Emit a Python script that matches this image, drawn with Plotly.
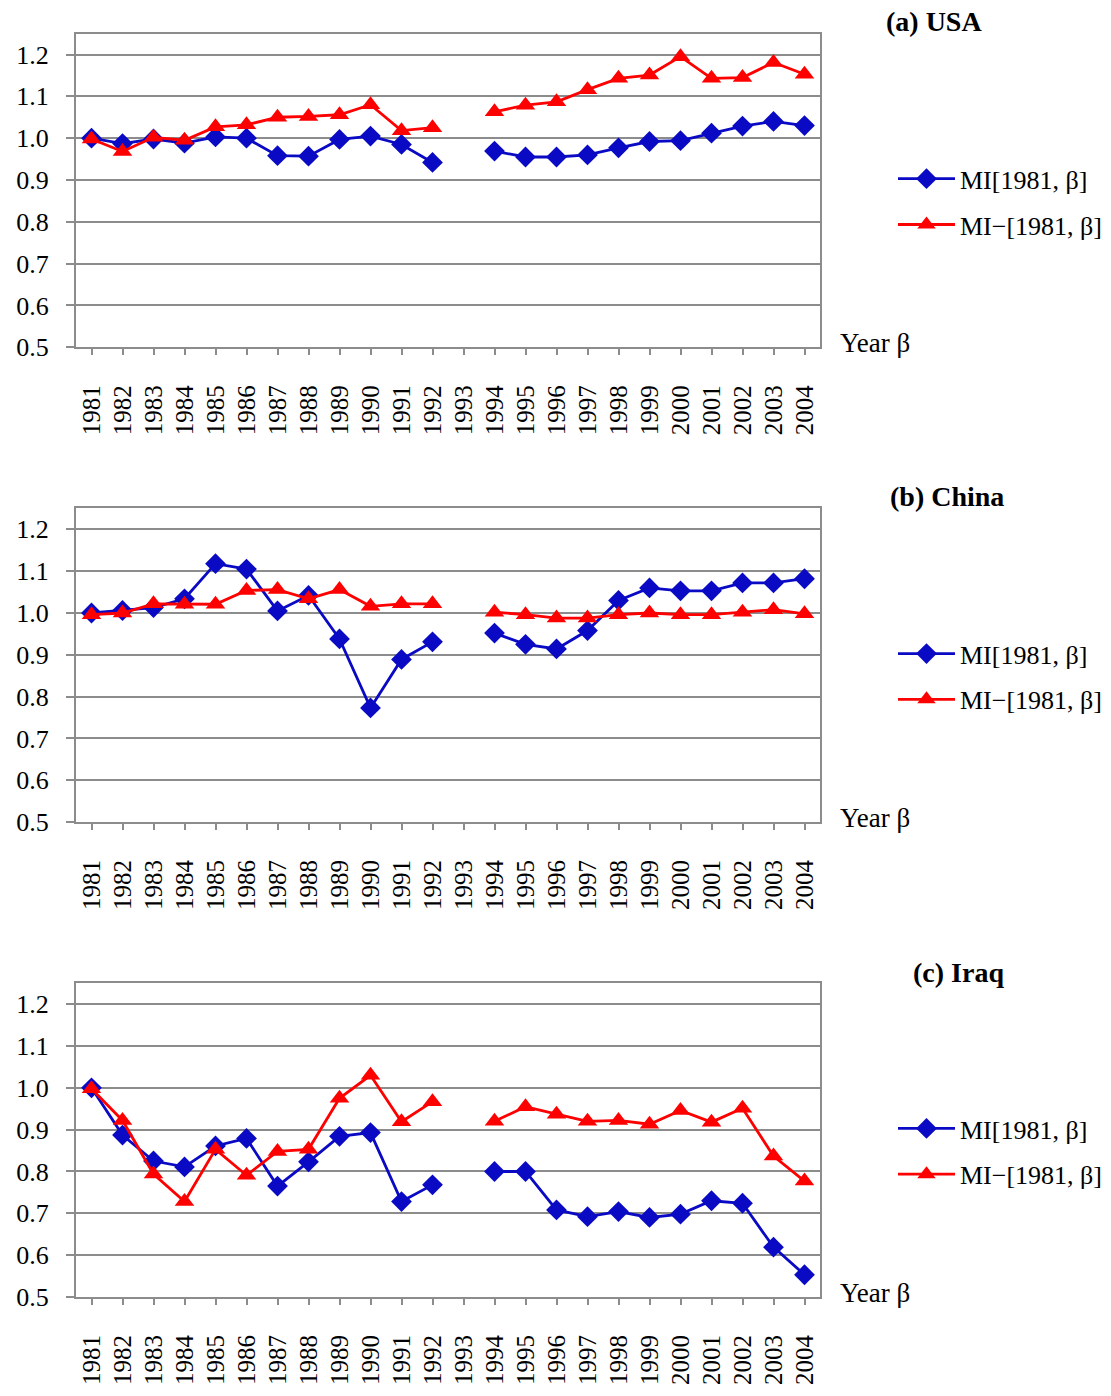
import plotly.graph_objects as go

years = ["1981","1982","1983","1984","1985","1986","1987","1988","1989","1990","1991","1992",
         "1993","1994","1995","1996","1997","1998","1999","2000","2001","2002","2003","2004"]

usa_mi = [1.000, 0.987, 0.998, 0.988, 1.003, 1.000, 0.958, 0.957, 0.997, 1.005, 0.985, 0.942,
          None, 0.969, 0.955, 0.955, 0.960, 0.977, 0.992, 0.994, 1.012, 1.029, 1.040, 1.030]
usa_mim = [0.998, 0.968, 1.002, 0.995, 1.027, 1.032, 1.050, 1.052, 1.056, 1.080, 1.018, 1.025,
           None, 1.063, 1.079, 1.087, 1.116, 1.143, 1.151, 1.195, 1.143, 1.145, 1.181, 1.153]

china_mi = [1.000, 1.006, 1.013, 1.034, 1.118, 1.105, 1.005, 1.042, 0.938, 0.773, 0.889, 0.931,
            None, 0.952, 0.925, 0.914, 0.958, 1.030, 1.060, 1.053, 1.053, 1.072, 1.072, 1.082]
china_mim = [0.996, 1.000, 1.022, 1.021, 1.021, 1.054, 1.056, 1.034, 1.056, 1.016, 1.022, 1.022,
             None, 1.002, 0.996, 0.988, 0.988, 0.996, 1.000, 0.996, 0.996, 1.002, 1.008, 0.998]

iraq_mi = [1.000, 0.887, 0.825, 0.811, 0.861, 0.879, 0.765, 0.823, 0.884, 0.893, 0.728, 0.768,
           None, 0.800, 0.800, 0.708, 0.692, 0.704, 0.690, 0.698, 0.730, 0.724, 0.619, 0.553]
iraq_mim = [0.998, 0.922, 0.794, 0.728, 0.853, 0.791, 0.848, 0.853, 0.975, 1.030, 0.919, 0.967,
            None, 0.920, 0.955, 0.937, 0.920, 0.922, 0.913, 0.946, 0.918, 0.951, 0.837, 0.777]

panels = [("(a) USA", usa_mi, usa_mim), ("(b) China", china_mi, china_mim), ("(c) Iraq", iraq_mi, iraq_mim)]
y_ticks = [0.5, 0.6, 0.7, 0.8, 0.9, 1.0, 1.1, 1.2]

W, H = 1111, 1396
FONT = "Liberation Serif"
BLUE = "#0A0AC4"
RED = "#FF0000"
GRID = "#8C8C8C"

fig = go.Figure()
layout = dict(width=W, height=H, margin=dict(l=0, r=0, t=0, b=0),
              paper_bgcolor="white", plot_bgcolor="white",
              font=dict(family=FONT, size=24, color="black"))
annotations = []

tops = [34, 514, 994]
bottoms = [351, 831, 1311]
title_pos = [(934, 22), (947, 502), (958, 983)]
x0, x1 = 76, 820

for i, (title, mi, mim) in enumerate(panels):
    n = "" if i == 0 else str(i + 1)
    xa, ya = "x" + n, "y" + n
    leg = "legend" + n
    fig.add_trace(go.Scatter(x=years, y=mi, xaxis=xa, yaxis=ya, mode="lines+markers",
                             name="MI[1981, \u03b2]", legend=leg, legendgroup="mi" + n,
                             line=dict(color=BLUE, width=2.8),
                             marker=dict(symbol="diamond", size=16, color=BLUE)))
    fig.add_trace(go.Scatter(x=years, y=mim, xaxis=xa, yaxis=ya, mode="lines+markers",
                             name="MI\u2212[1981, \u03b2]", legend=leg, legendgroup="mim" + n,
                             line=dict(color=RED, width=2.8),
                             marker=dict(symbol="triangle-up", size=17, color=RED)))
    ydom = [1 - bottoms[i] / H, 1 - tops[i] / H]
    layout["xaxis" + n] = dict(domain=[x0 / W, x1 / W], anchor=ya, type="category",
                               categoryorder="array", categoryarray=years,
                               range=[-0.5, len(years) - 0.5], autorange=False,
                               tickmode="array", tickvals=years, ticktext=years,
                               tickangle=-90, ticks="outside", ticklen=6, tickwidth=1.5,
                               tickcolor=GRID, showline=True, linecolor=GRID, linewidth=2,
                               mirror=True, showgrid=False, ticklabelstandoff=20,
                               tickfont=dict(family=FONT, size=25, color="black"))
    layout["yaxis" + n] = dict(domain=ydom, anchor=xa, range=[0.5, 1.25], autorange=False,
                               tickvals=y_ticks, tickformat=".1f",
                               ticks="outside", ticklen=8, tickwidth=2, tickcolor=GRID,
                               showline=True, linecolor=GRID, linewidth=2, mirror=True,
                               showgrid=True, gridcolor=GRID, gridwidth=2, zeroline=False,
                               ticklabelstandoff=12,
                               tickfont=dict(family=FONT, size=26, color="black"))
    layout[leg] = dict(x=893 / W, xanchor="left", y=1 - (tops[i] + 123) / H, yanchor="top",
                       bgcolor="rgba(0,0,0,0)", itemwidth=57, traceorder="grouped",
                       font=dict(family=FONT, size=26, color="black"), tracegroupgap=9)
    tx, ty = title_pos[i]
    annotations.append(dict(text="<b>" + title + "</b>", x=tx / W, y=1 - ty / H,
                            xref="paper", yref="paper", showarrow=False,
                            xanchor="center", yanchor="middle",
                            font=dict(family=FONT, size=28, color="black")))
    annotations.append(dict(text="Year \u03b2", x=838 / W, y=1 - (bottoms[i] - 4) / H,
                            xref="paper", yref="paper", showarrow=False,
                            xanchor="left", yanchor="middle",
                            font=dict(family=FONT, size=27, color="black")))

layout["annotations"] = annotations
layout["showlegend"] = True
fig.update_layout(**layout)
fig.write_html("out.html")
